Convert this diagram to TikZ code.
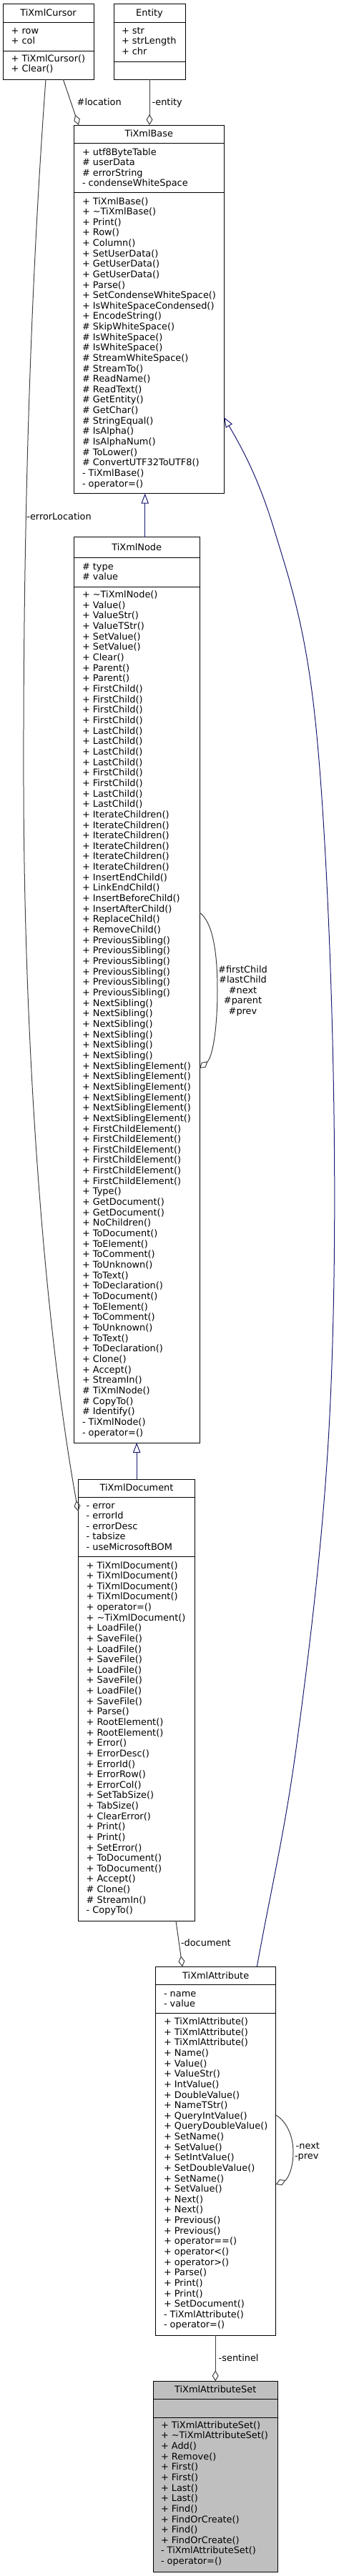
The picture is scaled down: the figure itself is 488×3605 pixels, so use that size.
\documentclass[tikz,border=0pt]{standalone}
\usepackage{fontspec}
\setmainfont{DejaVu Sans}
\usetikzlibrary{arrows.meta}
\definecolor{edgec}{HTML}{404040}
\definecolor{inhc}{HTML}{191970}
\definecolor{selfill}{HTML}{BFBFBF}
\newcommand\dfont{\fontsize{12.9bp}{14.63bp}\selectfont}
\newcommand\txtlines[5][14.63]{%
  \foreach \t [count=\i from 0] in {#5}
    \node[txt] (#2\i) at (#3, #4+\i*#1+4.3) {\t};}
\newcommand\ttl[4]{\node[ttlt] (#1) at (#2,#3+4.5) {#4};}
\tikzset{
 cls/.style={draw=black, line width=1bp, fill=white, inner sep=0pt, outer sep=0pt, anchor=north west},
 txt/.style={anchor=base west, inner sep=0pt, font=\dfont},
 ttlt/.style={anchor=base, inner sep=0pt, font=\dfont},
 lbl/.style={anchor=base west, inner sep=0pt, font=\dfont},
 sepl/.style={draw=black, line width=1bp},
 agg/.style={draw=edgec, line width=1bp, {Diamond[open,length=15bp,width=9bp]}-},
 inh/.style={draw=inhc, line width=1bp, {Triangle[open,length=14bp,width=10.5bp]}-},
}
\begin{document}
\begin{tikzpicture}[x=1bp,y=-1bp]
\useasboundingbox (0,0) rectangle (488,3605);
% ---------- boxes
\node[cls, minimum width=127bp, minimum height=105.3bp] (cursor) at (4,5.7) {};
\node[cls, minimum width=100bp, minimum height=105.3bp] (entity) at (159,5.7) {};
\node[cls, minimum width=210bp, minimum height=515.7bp] (base) at (103.3,175) {};
\node[cls, minimum width=175.7bp, minimum height=1267.3bp] (node) at (103.3,751.7) {};
\node[cls, minimum width=163.4bp, minimum height=618.3bp] (doc) at (109.3,2070) {};
\node[cls, minimum width=168bp, minimum height=516bp] (attr) at (217.7,2752.3) {};
\node[cls, fill=selfill, minimum width=174.4bp, minimum height=266.7bp] (set) at (214,3332.3) {};
% ---------- separators
\draw[sepl] (4,31) -- (131,31) (4,71) -- (131,71);
\draw[sepl] (159,31) -- (259,31) (159,86) -- (259,86);
\draw[sepl] (103.3,200.7) -- (313.3,200.7) (103.3,269.3) -- (313.3,269.3);
\draw[sepl] (103.3,780.7) -- (279,780.7) (103.3,821) -- (279,821);
\draw[sepl] (109.3,2095) -- (272.7,2095) (109.3,2178.3) -- (272.7,2178.3);
\draw[sepl] (217.7,2777.3) -- (385.7,2777.3) (217.7,2817.7) -- (385.7,2817.7);
\draw[sepl] (214,3357.7) -- (388.4,3357.7) (214,3383.3) -- (388.4,3383.3);
% ---------- TiXmlCursor
\ttl{cursorT}{67.5}{18.3}{TiXmlCursor}
\txtlines{cursorA}{15.5}{42.7}{+ row,+ col}
\txtlines{cursorM}{15.5}{82}{+ TiXmlCursor(),+ Clear()}
% ---------- Entity
\ttl{entityT}{209}{18.3}{Entity}
\txtlines{entityA}{169.8}{42.7}{+ str,+ strLength,+ chr}
% ---------- TiXmlBase
\ttl{baseT}{208.3}{186.7}{TiXmlBase}
\txtlines{baseA}{114.8}{212.7}{+ utf8ByteTable,\# userData,\# errorString,- condenseWhiteSpace}
\txtlines{baseM}{114.8}{281.7}{+ TiXmlBase(),+ \textasciitilde TiXmlBase(),+ Print(),+ Row(),+ Column(),+ SetUserData(),+ GetUserData(),+ GetUserData(),+ Parse(),+ SetCondenseWhiteSpace(),+ IsWhiteSpaceCondensed(),+ EncodeString(),\# SkipWhiteSpace(),\# IsWhiteSpace(),\# IsWhiteSpace(),\# StreamWhiteSpace(),\# StreamTo(),\# ReadName(),\# ReadText(),\# GetEntity(),\# GetChar(),\# StringEqual(),\# IsAlpha(),\# IsAlphaNum(),\# ToLower(),\# ConvertUTF32ToUTF8(),- TiXmlBase(),- operator=()}
% ---------- TiXmlNode
\ttl{nodeT}{191.2}{766}{TiXmlNode}
\txtlines{nodeA}{114.8}{792.7}{\# type,\# value}
\txtlines[14.655]{nodeM}{114.8}{832.3}{+ \textasciitilde TiXmlNode(),+ Value(),+ ValueStr(),+ ValueTStr(),+ SetValue(),+ SetValue(),+ Clear(),+ Parent(),+ Parent(),+ FirstChild(),+ FirstChild(),+ FirstChild(),+ FirstChild(),+ LastChild(),+ LastChild(),+ LastChild(),+ LastChild(),+ FirstChild(),+ FirstChild(),+ LastChild(),+ LastChild(),+ IterateChildren(),+ IterateChildren(),+ IterateChildren(),+ IterateChildren(),+ IterateChildren(),+ IterateChildren(),+ InsertEndChild(),+ LinkEndChild(),+ InsertBeforeChild(),+ InsertAfterChild(),+ ReplaceChild(),+ RemoveChild(),+ PreviousSibling(),+ PreviousSibling(),+ PreviousSibling(),+ PreviousSibling(),+ PreviousSibling(),+ PreviousSibling(),+ NextSibling(),+ NextSibling(),+ NextSibling(),+ NextSibling(),+ NextSibling(),+ NextSibling(),+ NextSiblingElement(),+ NextSiblingElement(),+ NextSiblingElement(),+ NextSiblingElement(),+ NextSiblingElement(),+ NextSiblingElement(),+ FirstChildElement(),+ FirstChildElement(),+ FirstChildElement(),+ FirstChildElement(),+ FirstChildElement(),+ FirstChildElement(),+ Type(),+ GetDocument(),+ GetDocument(),+ NoChildren(),+ ToDocument(),+ ToElement(),+ ToComment(),+ ToUnknown(),+ ToText(),+ ToDeclaration(),+ ToDocument(),+ ToElement(),+ ToComment(),+ ToUnknown(),+ ToText(),+ ToDeclaration(),+ Clone(),+ Accept(),+ StreamIn(),\# TiXmlNode(),\# CopyTo(),\# Identify(),- TiXmlNode(),- operator=()}
% ---------- TiXmlDocument
\ttl{docT}{191}{2081.7}{TiXmlDocument}
\txtlines{docA}{120.5}{2106.7}{- error,- errorId,- errorDesc,- tabsize,- useMicrosoftBOM}
\txtlines{docM}{120.5}{2190.7}{+ TiXmlDocument(),+ TiXmlDocument(),+ TiXmlDocument(),+ TiXmlDocument(),+ operator=(),+ \textasciitilde TiXmlDocument(),+ LoadFile(),+ SaveFile(),+ LoadFile(),+ SaveFile(),+ LoadFile(),+ SaveFile(),+ LoadFile(),+ SaveFile(),+ Parse(),+ RootElement(),+ RootElement(),+ Error(),+ ErrorDesc(),+ ErrorId(),+ ErrorRow(),+ ErrorCol(),+ SetTabSize(),+ TabSize(),+ ClearError(),+ Print(),+ Print(),+ SetError(),+ ToDocument(),+ ToDocument(),+ Accept(),\# Clone(),\# StreamIn(),- CopyTo()}
% ---------- TiXmlAttribute
\ttl{attrT}{301.7}{2765}{TiXmlAttribute}
\txtlines{attrA}{228.8}{2789.7}{- name,- value}
\txtlines{attrM}{228.8}{2829.3}{+ TiXmlAttribute(),+ TiXmlAttribute(),+ TiXmlAttribute(),+ Name(),+ Value(),+ ValueStr(),+ IntValue(),+ DoubleValue(),+ NameTStr(),+ QueryIntValue(),+ QueryDoubleValue(),+ SetName(),+ SetValue(),+ SetIntValue(),+ SetDoubleValue(),+ SetName(),+ SetValue(),+ Next(),+ Next(),+ Previous(),+ Previous(),+ operator==(),+ operator<(),+ operator>(),+ Parse(),+ Print(),+ Print(),+ SetDocument(),- TiXmlAttribute(),- operator=()}
% ---------- TiXmlAttributeSet
\ttl{setT}{301.2}{3344.3}{TiXmlAttributeSet}
\txtlines{setM}{224.8}{3394}{+ TiXmlAttributeSet(),+ \textasciitilde TiXmlAttributeSet(),+ Add(),+ Remove(),+ First(),+ First(),+ Last(),+ Last(),+ Find(),+ FindOrCreate(),+ Find(),+ FindOrCreate(),- TiXmlAttributeSet(),- operator=()}
% ---------- connectors
\draw[agg] ([xshift=6.7bp]base.north west) -- ([xshift=84.3bp]cursor.south west);
\draw[agg] (entity.south |- base.north) -- (entity.south);
\draw[agg] ([yshift=-45bp]doc.north west) .. controls (65,1870) and (34,1500) .. (33,1100) .. controls (32,650) and (48,330) .. ([xshift=60bp]cursor.south west);
\draw[inh] ([xshift=99.4bp]base.south west) -- ([xshift=99.4bp]node.north west);
\draw[inh] (node.south) -- (node.south |- doc.north);
\draw[inh] ([yshift=-409bp]base.north east) .. controls (340,630) and (361.9,670.7) .. (383,740)
  .. controls (404.1,809.3) and (426.2,873.3) .. (440,1000)
  .. controls (453.8,1126.7) and (462.7,1333.3) .. (466,1500)
  .. controls (469.3,1666.7) and (468.5,1843.3) .. (460,2000)
  .. controls (451.5,2156.7) and (431.8,2314.6) .. (415,2440)
  .. controls (398.2,2565.4) and (377.9,2648.2) .. ([xshift=141.6bp]attr.north west);
\draw[agg] ([yshift=-743.3bp]node.north east) .. controls (297,1480) and (304,1440) .. (304,1386) .. controls (304,1330) and (297,1290) .. ([yshift=-525.3bp]node.north east);
\draw[agg] ([xshift=37.3bp]attr.north west) -- ([xshift=136.7bp]doc.south west);
\draw[agg] ([yshift=-304.7bp]attr.north east) .. controls (402,3050) and (410,3035) .. (410,3012) .. controls (410,2988) and (400,2968) .. ([yshift=-207.7bp]attr.north east);
\draw[agg] (set.north) -- (set.north |- attr.south);
% ---------- connector labels
\node[lbl] (lLocation) at (107.5,147.3) {\#location};
\node[lbl] (lEntity) at (212.5,147.3) {-entity};
\node[lbl, anchor=base east] (lErrLoc) at (128,727) {-errorLocation};
\node[ttlt] (lFirst) at (339.5,1361.1) {\#firstChild};
\node[ttlt] (lLast) at (339.5,1375.7) {\#lastChild};
\node[ttlt] (lNext) at (339.5,1390.3) {\#next};
\node[ttlt] (lParent) at (339.5,1404.9) {\#parent};
\node[ttlt] (lPrev) at (339.5,1419.5) {\#prev};
\node[lbl] (lDoc) at (252.8,2723.6) {-document};
\node[lbl] (lAnext) at (413.5,3007) {-next};
\node[lbl] (lAprev) at (411.8,3021.6) {-prev};
\node[lbl] (lSent) at (305.5,3304.3) {-sentinel};
\end{tikzpicture}
\end{document}
